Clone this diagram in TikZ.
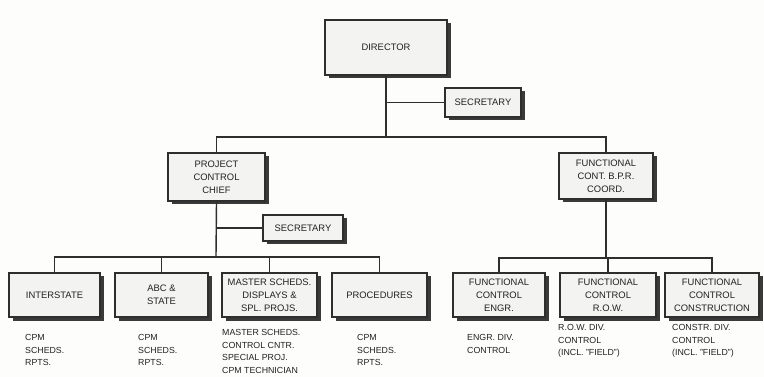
\documentclass[tikz,border=0pt]{standalone}
\usepackage{fontspec}
\setsansfont{Liberation Sans}
\usetikzlibrary{shadows}
\definecolor{ink}{HTML}{222222}
\definecolor{frame}{HTML}{2E2E2E}
\definecolor{shade}{HTML}{3A3A3A}
\definecolor{boxfill}{HTML}{F3F3F1}
\definecolor{paper}{HTML}{FDFDFC}
\tikzset{
  font=\sffamily,
  orgbox/.style={
    rectangle,
    draw=frame,
    line width=1.2pt,
    fill=boxfill,
    align=center,
    text=ink,
    font=\sffamily\fontsize{9.4}{12.8}\selectfont,
    inner sep=2pt,
    drop shadow={shadow xshift=3.5pt, shadow yshift=-3.5pt, fill=shade, opacity=1}
  },
  unitbox/.style={
    orgbox,
    minimum height=44pt
  },
  wire/.style={
    draw=frame,
    line width=1.4pt
  },
  note/.style={
    anchor=north west,
    inner sep=0pt,
    align=left,
    text=ink,
    font=\sffamily\fontsize{8.8}{12.8}\selectfont
  }
}

\begin{document}
\begin{tikzpicture}[x=1pt, y=-1pt]
  \fill[paper] (0,0) rectangle (764,377);
  \useasboundingbox (0,0) rectangle (764,377);

  % top of the chart
  \node[orgbox, minimum width=122pt, minimum height=55pt] (director) at (386,47.5) {DIRECTOR};
  \node[orgbox, minimum width=76pt, minimum height=29pt] (sec1) at (483,102.5) {SECRETARY};
  \node[orgbox, minimum width=97pt, minimum height=48pt] (pcc) at (216.5,177) {PROJECT\\CONTROL\\CHIEF};
  \node[orgbox, minimum width=94pt, minimum height=46pt] (fcc) at (606,176) {FUNCTIONAL\\CONT.\ B.P.R.\\COORD.};
  \node[orgbox, minimum width=80pt, minimum height=26pt] (sec2) at (303,228) {SECRETARY};

  % project control units
  \node[unitbox, minimum width=91pt] (interstate) at (54.5,295) {INTERSTATE};
  \node[unitbox, minimum width=93pt] (abc) at (161.5,295) {ABC \&\\STATE};
  \node[unitbox, minimum width=95pt] (master) at (269.5,295) {MASTER SCHEDS.\\DISPLAYS \&\\SPL.\ PROJS.};
  \node[unitbox, minimum width=95pt] (procedures) at (379.5,295) {PROCEDURES};

  % functional control units
  \node[unitbox, minimum width=92pt] (engr) at (499,295) {FUNCTIONAL\\CONTROL\\ENGR.};
  \node[unitbox, minimum width=96pt] (row) at (608,295) {FUNCTIONAL\\CONTROL\\R.O.W.};
  \node[unitbox, minimum width=94pt] (constr) at (712,295) {FUNCTIONAL\\CONTROL\\CONSTRUCTION};

  \coordinate (topbar) at (386,137);
  \coordinate (pccbar) at (216,257);
  \coordinate (fccbar) at (606,258);

  \draw[wire] (director.south) -- (topbar);
  \draw[wire] (director.south |- sec1.west) -- (sec1.west);
  \draw[wire] (pcc.north) -- (pcc.north |- topbar) -- (fcc.north |- topbar) -- (fcc.north);

  \draw[wire] (pcc.south) -- (pccbar);
  \draw[wire] (pcc.south |- sec2.west) -- (sec2.west);
  \draw[wire] (interstate.north) -- (interstate.north |- pccbar) -- (procedures.north |- pccbar) -- (procedures.north);
  \foreach \n in {abc,master}
    \draw[wire] (\n.north) -- (\n.north |- pccbar);

  \draw[wire] (fcc.south) -- (fccbar);
  \draw[wire] (engr.north) -- (engr.north |- fccbar) -- (constr.north |- fccbar) -- (constr.north);
  \draw[wire] (row.north) -- (row.north |- fccbar);

  % duties under each unit
  \node[note] (interstate-note) at (25,334) {CPM\\SCHEDS.\\RPTS.};
  \node[note] (abc-note) at (138,334) {CPM\\SCHEDS.\\RPTS.};
  \node[note] (master-note) at (222,329) {MASTER SCHEDS.\\CONTROL CNTR.\\SPECIAL PROJ.\\CPM TECHNICIAN};
  \node[note] (procedures-note) at (357,334) {CPM\\SCHEDS.\\RPTS.};
  \node[note] (engr-note) at (467,334) {ENGR.\ DIV.\\CONTROL};
  \node[note] (row-note) at (558,324) {R.O.W.\ DIV.\\CONTROL\\(INCL.\ "FIELD")};
  \node[note] (constr-note) at (672,324) {CONSTR.\ DIV.\\CONTROL\\(INCL.\ "FIELD")};
\end{tikzpicture}
\end{document}
